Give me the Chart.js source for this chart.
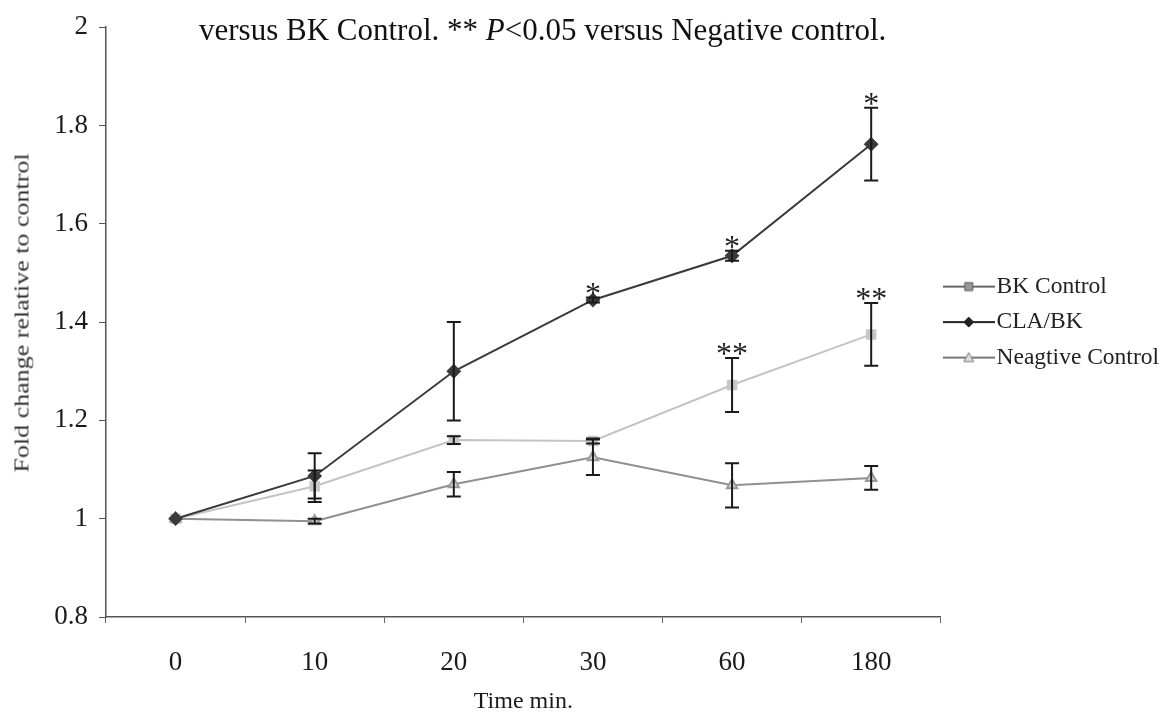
<!DOCTYPE html>
<html>
<head>
<meta charset="utf-8">
<script src="https://cdn.jsdelivr.net/npm/chart.js@4.4.0/dist/chart.umd.min.js"></script>
<style>
  body { margin: 0; background: #fff; }
  #wrap { position: relative; width: 1165px; height: 720px; }
  #note {
    position: absolute; left: 199px; top: 12px; white-space: nowrap;
    font: 31px "Liberation Serif", "Times New Roman", serif; color: #111;
  }
  #ylab {
    position: absolute; left: 22px; top: 313px; white-space: nowrap;
    font: 20px "Liberation Serif", "Times New Roman", serif; color: #333;
    transform: translate(-50%, -50%) rotate(-90deg) scaleX(1.3);
  }
</style>
</head>
<body>
<div id="wrap">
  <canvas id="foldChart" width="1165" height="720"></canvas>
  <div id="note">versus BK Control. ** <i>P</i>&lt;0.05 versus Negative control.</div>
  <div id="ylab">Fold change relative to control</div>
</div>
<script>
// Time points and y ticks
const timeLabels = ['0', '10', '20', '30', '60', '180'];
const yTicks = [0.8, 1, 1.2, 1.4, 1.6, 1.8, 2];

// Mean fold change per group
const bkControl = [1.0, 1.066, 1.16, 1.158, 1.272, 1.375];
const claBk = [1.0, 1.087, 1.30, 1.445, 1.535, 1.762];
const negControl = [1.0, 0.995, 1.07, 1.125, 1.068, 1.083];

// Error (+/-) per group
const bkControlErr = [0, 0.032, 0.008, 0.005, 0.055, 0.064];
const claBkErr = [0, 0.046, 0.1, 0.005, 0.01, 0.074];
const negControlErr = [0, 0.005, 0.025, 0.036, 0.045, 0.024];

// Significance marks
const claBkStars = ['', '', '', '*', '*', '*'];
const bkControlStars = ['', '', '', '', '**', '**'];

const serif = '"Liberation Serif", "Times New Roman", serif';

function legendIcon(lineColor, shape, fill, stroke) {
    const c = document.createElement('canvas');
    c.width = 52; c.height = 16;
    const g = c.getContext('2d');
    g.strokeStyle = lineColor;
    g.lineWidth = 2;
    g.beginPath(); g.moveTo(0, 8); g.lineTo(52, 8); g.stroke();
    g.fillStyle = fill;
    g.strokeStyle = stroke;
    g.lineWidth = 1;
    g.beginPath();
    if (shape === 'rect') {
        g.rect(22, 4, 8, 8);
    } else if (shape === 'diamond') {
        g.moveTo(26, 3); g.lineTo(31, 8); g.lineTo(26, 13); g.lineTo(21, 8); g.closePath();
    } else {
        g.moveTo(26, 3); g.lineTo(31, 12); g.lineTo(21, 12); g.closePath();
    }
    g.fill(); g.stroke();
    return c;
}

const legendIcons = [
    legendIcon('#666', 'rect', '#999', '#555'),
    legendIcon('#222', 'diamond', '#222', '#222'),
    legendIcon('#777', 'triangle', '#ddd', '#777')
];

// Vertical error bars with caps
const errorBars = {
    id: 'errorBars',
    afterDatasetsDraw(chart) {
        const ctx = chart.ctx;
        const y = chart.scales.y;
        ctx.save();
        ctx.strokeStyle = '#1a1a1a';
        ctx.lineWidth = 2;
        chart.data.datasets.forEach((ds, i) => {
            const meta = chart.getDatasetMeta(i);
            meta.data.forEach((pt, j) => {
                const e = ds.errors[j];
                if (!e) return;
                const top = y.getPixelForValue(ds.data[j] + e);
                const bot = y.getPixelForValue(ds.data[j] - e);
                ctx.beginPath();
                ctx.moveTo(pt.x, top); ctx.lineTo(pt.x, bot);
                ctx.moveTo(pt.x - 7, top); ctx.lineTo(pt.x + 7, top);
                ctx.moveTo(pt.x - 7, bot); ctx.lineTo(pt.x + 7, bot);
                ctx.stroke();
            });
        });
        ctx.restore();
    }
};

// Asterisks above significant points
const starMarks = {
    id: 'starMarks',
    afterDatasetsDraw(chart) {
        const ctx = chart.ctx;
        const y = chart.scales.y;
        ctx.save();
        ctx.fillStyle = '#222';
        ctx.font = '32px ' + serif;
        ctx.textAlign = 'center';
        ctx.textBaseline = 'alphabetic';
        chart.data.datasets.forEach((ds, i) => {
            if (!ds.stars) return;
            const meta = chart.getDatasetMeta(i);
            meta.data.forEach((pt, j) => {
                if (!ds.stars[j]) return;
                const top = y.getPixelForValue(ds.data[j] + ds.errors[j]);
                ctx.fillText(ds.stars[j], pt.x, top + 6);
            });
        });
        ctx.restore();
    }
};

// Keep the legend block centred on the plot area rather than the whole canvas
const legendBand = {
    id: 'legendBand',
    afterLayout(chart) {
        chart.legend.top = chart.chartArea.top;
        chart.legend.bottom = chart.chartArea.bottom;
    }
};

new Chart(document.getElementById('foldChart'), {
    type: 'line',
    data: {
        labels: timeLabels,
        datasets: [
            {
                label: 'BK Control',
                data: bkControl,
                errors: bkControlErr,
                stars: bkControlStars,
                borderColor: '#c4c4c4',
                borderWidth: 2,
                pointStyle: 'rect',
                pointRadius: 6,
                pointBackgroundColor: '#c8c8c8',
                pointBorderColor: '#c8c8c8',
                order: 2
            },
            {
                label: 'CLA/BK',
                data: claBk,
                errors: claBkErr,
                stars: claBkStars,
                borderColor: '#3a3a3a',
                borderWidth: 2,
                pointStyle: 'rectRot',
                pointRadius: 6,
                pointBackgroundColor: '#3a3a3a',
                pointBorderColor: '#3a3a3a',
                order: 1
            },
            {
                label: 'Neagtive Control',
                data: negControl,
                errors: negControlErr,
                borderColor: '#909090',
                borderWidth: 2,
                pointStyle: 'triangle',
                pointRadius: 6,
                pointBackgroundColor: '#d8d8d8',
                pointBorderColor: '#9a9a9a',
                order: 3
            }
        ]
    },
    options: {
        responsive: false,
        animation: false,
        layout: { padding: { top: 27, right: -4 } },
        plugins: {
            legend: {
                position: 'right',
                labels: {
                    usePointStyle: true,
                    pointStyleWidth: 32,
                    padding: 12,
                    color: '#222',
                    font: { family: serif, size: 23.5 },
                    sort: (a, b) => a.datasetIndex - b.datasetIndex,
                    generateLabels(chart) {
                        const items = Chart.defaults.plugins.legend.labels.generateLabels(chart);
                        items.forEach(it => { it.pointStyle = legendIcons[it.datasetIndex]; });
                        return items;
                    }
                }
            },
            tooltip: { enabled: false }
        },
        scales: {
            x: {
                offset: true,
                afterFit(scale) { scale.height = 103; },
                grid: { display: true, drawOnChartArea: false, offset: true, tickLength: 6, color: '#666' },
                border: { color: '#555', width: 1.5 },
                ticks: { color: '#1a1a1a', padding: 24, font: { family: serif, size: 27 } },
                title: {
                    display: true,
                    text: 'Time min.',
                    color: '#1a1a1a',
                    font: { family: serif, size: 24 },
                    padding: { top: 0, bottom: 4 }
                }
            },
            y: {
                min: 0.8,
                max: 2,
                afterFit(scale) { scale.width = 106; },
                afterBuildTicks(scale) { scale.ticks = yTicks.map(v => ({ value: v })); },
                grid: { display: true, drawOnChartArea: false, tickLength: 7, color: '#555' },
                border: { color: '#555', width: 1.5 },
                ticks: {
                    color: '#1a1a1a',
                    padding: 11,
                    font: { family: serif, size: 27 },
                    callback: v => String(Math.round(v * 10) / 10)
                }
            }
        }
    },
    plugins: [errorBars, starMarks, legendBand]
});
</script>
</body>
</html>
